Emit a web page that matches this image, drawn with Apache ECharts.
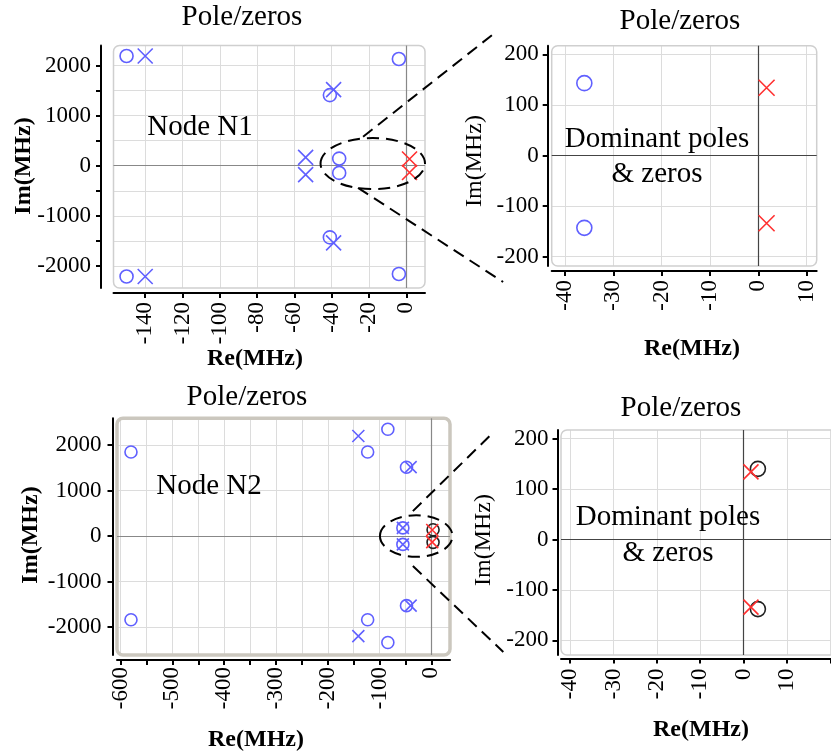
<!DOCTYPE html>
<html><head><meta charset="utf-8">
<script src="https://cdn.jsdelivr.net/npm/echarts@6/dist/echarts.min.js"></script>
<style>html,body{margin:0;padding:0;background:#fff}#c{width:831px;height:756px}</style>
</head><body><div id="c"></div>
<script>
// ---------------- data ----------------
// Node N1 (Re, Im) in MHz
const n1Zeros    = [[-150,2190],[-150,-2210],[-4,2130],[-4,-2160],[-41,1410],[-41,-1430],[-36,143],[-36,-143]];
const n1Poles    = [[-140,2190],[-140,-2210],[-39,1520],[-39,-1540],[-54,166],[-54,-176]];
const n1DomPoles = [[1.7,134],[1.7,-134]];
// Node N2
const n2Zeros    = [[-580,1850],[-580,-1840],[-123,1850],[-123,-1840],[-84,2350],[-84,-2340],[-48,1515],[-48,-1530],[-55,180],[-55,-183]];
const n2Poles    = [[-141,2200],[-141,-2200],[-40,1515],[-40,-1530],[-55,180],[-55,-183]];
const n2DomPoles = [[1.7,134],[1.7,-134]];
const n2DomZeros = [[3.3,140],[3.3,-138]];
// ticks / labels
const n1XTicks  = [-140,-120,-100,-80,-60,-40,-20,0];
const n1YTicks  = [-2000,-1500,-1000,-500,0,500,1000,1500,2000];
const n1YLabels = [-2000,-1000,0,1000,2000];
const zXTicks   = [-40,-30,-20,-10,0,10];
const z4XTicks  = [-40,-30,-20,-10,0,10,20];
const zYTicks   = [-200,-100,0,100,200];
const n2XTicks  = [-600,-550,-500,-450,-400,-350,-300,-250,-200,-150,-100,-50,0];
const n2XLabels = [-600,-500,-400,-300,-200,-100,0];
const n2YTicks  = [-2000,-1000,0,1000,2000];
// texts
const titleText = 'Pole/zeros';
const reName = 'Re(MHz)', imName = 'Im(MHz)';
const node1 = 'Node N1', node2 = 'Node N2';
const domLine1 = 'Dominant poles', domLine2 = '& zeros';

// ---------------- styling / layout ----------------
const FONT = '"Liberation Serif","Times New Roman",serif';
const BLUE = '#6060ff', RED = '#ff3030', BLK = '#222';
const XPATH = 'path://M0,0L10,10M10,0L0,10';

const grids = [
  {left:113.5, top:45.5, width:311.5, height:242.5},
  {left:551.7, top:45.7, width:265,   height:220.3},
  {left:117,   top:418.3,width:333,   height:236.7},
  {left:561,   top:430,  width:278,   height:225}
].map(g => Object.assign({outerBoundsMode:'none', containLabel:false, show:false}, g));

const plain = v => String(v);
function xAx(gi, min, max, ticks, labels, offset, margin, lineEnd){
  const a = {type:'value', gridIndex:gi, min, max, offset,
    axisLine:{show:true, onZero:false, lineStyle:{color:'#000', width:2}},
    axisTick:{show:true, inside:false, length:5, customValues:ticks, lineStyle:{color:'#000', width:2}},
    axisLabel:{show:true, customValues:labels, formatter:plain, rotate:90, margin, color:'#000', fontFamily:FONT, fontSize:23},
    splitLine:{show:true, lineStyle:{color:'#dcdcdc', width:1}}};
  return a;
}
function yAx(gi, min, max, ticks, labels, offset, margin){
  return {type:'value', gridIndex:gi, min, max, offset,
    axisLine:{show:true, onZero:false, lineStyle:{color:'#000', width:2}},
    axisTick:{show:true, inside:false, length:5, customValues:ticks, lineStyle:{color:'#000', width:2}},
    axisLabel:{show:true, customValues:labels, formatter:plain, margin, color:'#000', fontFamily:FONT, fontSize:23},
    splitLine:{show:true, lineStyle:{color:'#dcdcdc', width:1}}};
}
function sc(gi, data, kind, color, size, zeroLine, zeroColor){
  const s = {type:'scatter', xAxisIndex:gi, yAxisIndex:gi, data, silent:true, clip:true,
    symbol: kind==='o' ? 'circle' : XPATH, symbolSize:size, symbolKeepAspect:true,
    itemStyle:{color:'rgba(0,0,0,0)', borderColor:color, borderWidth:1.6, opacity:1},
    emphasis:{disabled:true}, z:5};
  if (zeroLine) s.markLine = {silent:true, symbol:['none','none'], label:{show:false}, animation:false,
    lineStyle:{color:zeroColor, width:1.2, type:'solid'}, emphasis:{disabled:true},
    data:[{xAxis:0},{yAxis:0}]};
  return s;
}

const option = {
  animation:false,
  backgroundColor:'#fff',
  grid: grids,
  xAxis: [
    xAx(0, -157, 10, n1XTicks, n1XTicks, 5, 9),
    xAx(1, -42.75, 12.07, zXTicks, zXTicks, 5, 9),
    xAx(2, -607, 36, n2XTicks, n2XLabels, 5, 7),
    xAx(3, -42.1, 22, z4XTicks, zXTicks, 3.5, 10)
  ],
  yAxis: [
    yAx(0, -2440, 2400, n1YTicks, n1YLabels, 12.5, 10),
    yAx(1, -218.4, 217, zYTicks, zYTicks, 4, 9),
    yAx(2, -2615, 2590, n2YTicks, n2YTicks, 4.5, 11),
    yAx(3, -229, 217, zYTicks, zYTicks, 3.5, 9)
  ],
  series: [
    sc(0, n1Zeros, 'o', BLUE, 13, true, '#888'),
    sc(0, n1Poles, 'x', BLUE, 15),
    sc(0, n1DomPoles, 'x', RED, 15),
    sc(1, n1Zeros, 'o', BLUE, 15, true, '#444'),
    sc(1, n1Poles, 'x', BLUE, 16),
    sc(1, n1DomPoles, 'x', RED, 16),
    sc(2, n2Zeros, 'o', BLUE, 12, true, '#888'),
    sc(2, n2Poles, 'x', BLUE, 12),
    sc(2, n2DomZeros, 'o', BLK, 12),
    sc(2, n2DomPoles, 'x', RED, 12),
    sc(3, n2DomZeros, 'o', BLK, 15, true, '#444'),
    sc(3, n2DomPoles, 'x', RED, 15)
  ]
};

const chart = echarts.init(document.getElementById('c'), null, {renderer:'canvas'});
chart.setOption(option);

// ---------------- annotations ----------------
function txt(text, x, y, size, bold, rot){
  return {type:'text', x, y, rotation: rot ? Math.PI/2 : 0, z:50, silent:true,
    style:{text, font:(bold?'bold ':'')+size+'px '+FONT, fill:'#000',
      align:'center', verticalAlign:'middle', textAlign:'center', textVerticalAlign:'middle'}};
}
function box(g, stroke, lw){
  return {type:'rect', z:1, silent:true, shape:{x:g.left, y:g.top, width:g.width, height:g.height, r:6},
    style:{fill:'none', stroke, lineWidth:lw}};
}
const P = (gi, xy) => chart.convertToPixel({gridIndex:gi}, xy);
const DASH = {stroke:'#000', lineWidth:2, lineDash:[12,7], fill:'none'};
function ell(gi, cx, cy, rx, ry){
  const c = P(gi, [cx, cy]), e = P(gi, [cx+rx, cy+ry]);
  return {type:'ellipse', z:60, silent:true, shape:{cx:c[0], cy:c[1], rx:Math.abs(e[0]-c[0]), ry:Math.abs(e[1]-c[1])}, style:DASH};
}
function link(g1, a, g2, b){
  const p1 = P(g1, a), p2 = P(g2, b);
  return {type:'line', z:60, silent:true, shape:{x1:p1[0], y1:p1[1], x2:p2[0], y2:p2[1]}, style:DASH};
}

const graphic = [
  box(grids[0], '#cfcfcf', 1.5), box(grids[1], '#cfcfcf', 1.5),
  box(grids[2], '#cbc7be', 3.5), box(grids[3], '#cfcfcf', 1.5),
  txt(titleText, 242, 17, 29), txt(titleText, 680, 21, 29),
  txt(titleText, 247, 397, 29), txt(titleText, 681, 408, 29),
  txt(node1, 200, 127, 29), txt(node2, 209, 486, 29),
  txt(domLine1, 657, 139, 29), txt(domLine2, 657, 174, 29),
  txt(domLine1, 668, 517, 29), txt(domLine2, 668, 553, 29),
  txt(reName, 255, 359, 24, true), txt(imName, 24, 166, 24, true, true),
  txt(reName, 692, 349, 24, true), txt(imName, 475, 161, 24, false, true),
  txt(reName, 256, 740, 24, true), txt(imName, 31, 535, 24, true, true),
  txt(reName, 701, 730, 24, true), txt(imName, 484, 540, 24, false, true),
  ell(0, -18, 44, 28, 510),
  link(0, [-23.2, 580], 1, [-55.1, 238]),
  link(0, [-25.9, -440], 1, [-52.8, -250]),
  ell(2, -29.3, 0, 70, 457),
  link(2, [-35.7, 549], 3, [-57.5, 214]),
  link(2, [-35.7, -659], 3, [-55.4, -223])
];
chart.setOption({graphic});
</script></body></html>
